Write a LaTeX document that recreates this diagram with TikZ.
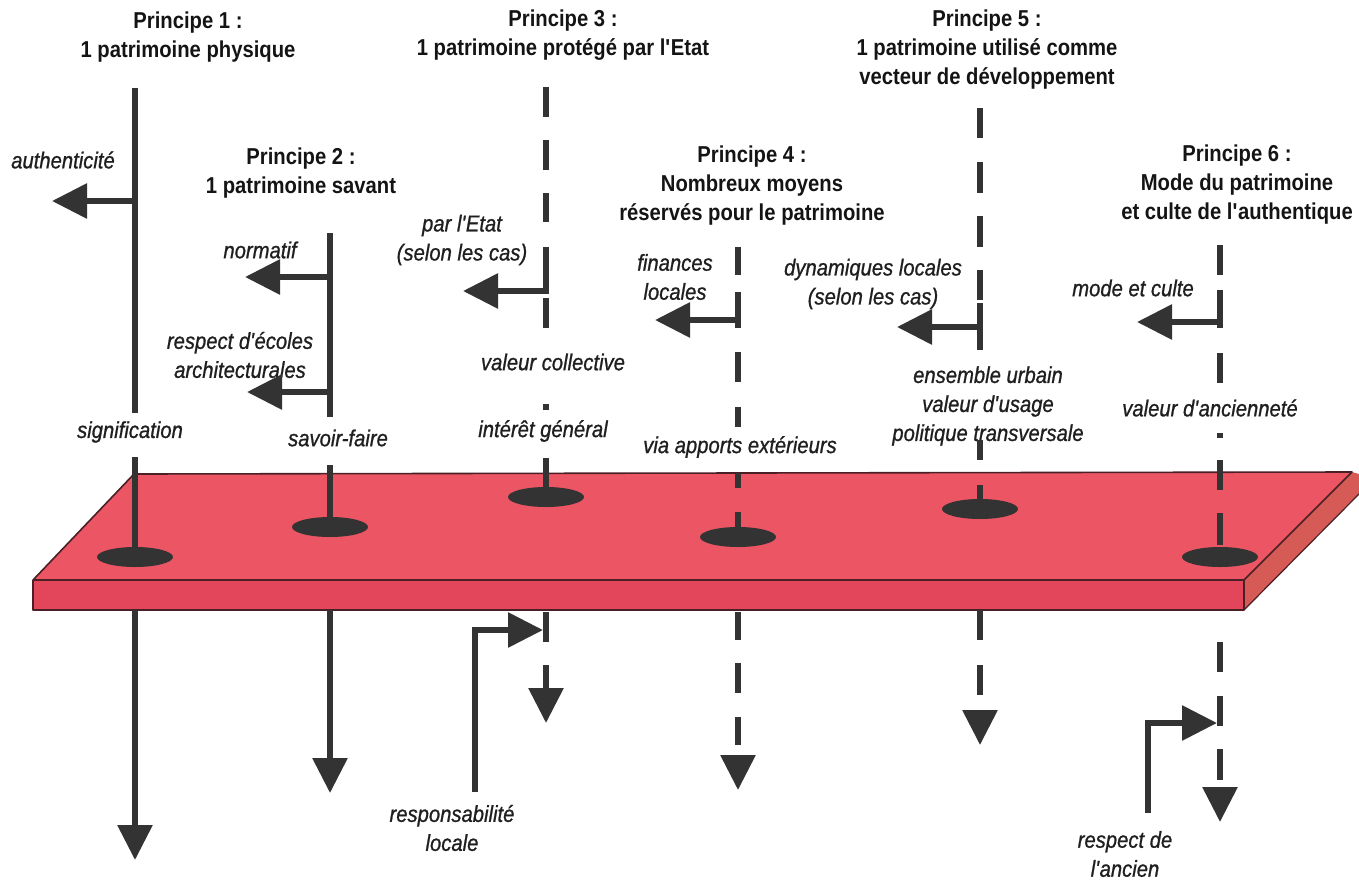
\documentclass[tikz,border=0pt]{standalone}
\usepackage{fontspec}
\setmainfont{Liberation Sans}[FakeStretch=0.88]
\newfontfamily\labfont{Liberation Sans Italic}[FakeStretch=0.88, FakeBold=0.9]
\usetikzlibrary{arrows.meta}
\definecolor{ink}{HTML}{333333}
\definecolor{slabtop}{HTML}{EC5563}
\definecolor{slabfront}{HTML}{E3465A}
\definecolor{slabside}{HTML}{D65A55}
\definecolor{slabedge}{HTML}{4A2026}
\newcommand{\ap}{\textquotesingle}
\begin{document}
\begin{tikzpicture}[x=1pt,y=-1pt,
 title/.style={font=\fontsize{23}{29}\selectfont\bfseries, align=center, text=black!92, inner sep=0pt},
 lab/.style={font=\fontsize{23}{29}\selectfont\labfont, align=center, text=black!88, inner sep=0pt},
 bar/.style={draw=ink, line width=6pt},
 arr/.style={bar, -{Triangle[length=35pt,width=34pt]}},
 disc/.style={fill=ink}]
\useasboundingbox (0,0) rectangle (1359,883);
% slab
\fill[slabtop] (134,474) -- (1352,472) -- (1244,580) -- (33,580) -- cycle;
\fill[slabfront] (33,580) rectangle (1244,610);
\fill[slabside] (1244,580) -- (1352,472) -- (1359,474) -- (1359,494) -- (1244,610) -- cycle;
\draw[slabedge, line width=1.6pt, line join=round] (33,580) -- (134,474) -- (1352,472) -- (1244,580) -- cycle;
\draw[slabedge, line width=1.6pt, line join=round] (33,580) -- (33,610) -- (1244,610) -- (1244,580);
\draw[slabedge, line width=1.2pt] (1244,610) -- (1359,494);
% titles
\node[title] (t1) at (188,37) {Principe 1 :\\1 patrimoine physique};
\node[title] (t2) at (301,173) {Principe 2 :\\1 patrimoine savant};
\node[title] (t3) at (563,35) {Principe 3 :\\1 patrimoine protégé par l\ap Etat};
\node[title] (t4) at (752,186) {Principe 4 :\\Nombreux moyens\\réservés pour le patrimoine};
\node[title] (t5) at (987,50) {Principe 5 :\\1 patrimoine utilisé comme\\vecteur de développement};
\node[title] (t6) at (1237,185) {Principe 6 :\\Mode du patrimoine\\et culte de l\ap authentique};
% labels
\node[lab] (l1a) at (63,160) {authenticité};
\node[lab] (l1b) at (130,432) {signification};
\node[lab] (l2a) at (260,250) {normatif};
\node[lab] (l2b) at (240,355) {respect d\ap écoles\\architecturales};
\node[lab] (l2c) at (338,438) {savoir-faire};
\node[lab] (l3a) at (462,240) {par l\ap Etat\\(selon les cas)};
\node[lab] (l3b) at (553,362) {valeur collective};
\node[lab] (l3c) at (543,431) {intérêt général};
\node[lab] (l3d) at (452,828) {responsabilité\\locale};
\node[lab] (l4a) at (675,277) {finances\\locales};
\node[lab] (l4b) at (740,447) {via apports extérieurs};
\node[lab] (l5a) at (873,284) {dynamiques locales\\(selon les cas)};
\node[lab] (l5b) at (988,406) {ensemble urbain\\valeur d\ap usage\\politique transversale};
\node[lab] (l6a) at (1133,288) {mode et culte};
\node[lab] (l6b) at (1210,408) {valeur d\ap ancienneté};
\node[lab] (l6c) at (1125,854) {respect de\\l\ap ancien};
% Principe 1
\draw[bar] (135,88) -- (135,413);
\draw[arr] (135,201) -- (52,201);
\draw[bar] (135,457) -- (135,557);
\fill[disc] (135,557) ellipse [x radius=38pt, y radius=10pt];
\draw[arr] (135,610) -- (135,860);
% Principe 2
\draw[bar] (330,233) -- (330,417);
\draw[arr] (330,277) -- (245,277);
\draw[arr] (330,392) -- (247,392);
\draw[bar] (330,465) -- (330,527);
\fill[disc] (330,527) ellipse [x radius=38pt, y radius=10pt];
\draw[arr] (330,610) -- (330,793);
% Principe 3
\foreach \a/\b in {87/117,140/170,193/222,247/293,298/328,404/410,458/497}
  \draw[bar] (546,\a) -- (546,\b);
\draw[arr] (549,291) -- (463,291);
\fill[disc] (546,497) ellipse [x radius=38pt, y radius=10pt];
\draw[bar] (546,612) -- (546,642);
\draw[arr] (546,665) -- (546,723);
\draw[bar] (475,792) -- (475,630) -- (520,630);
\draw[arr] (472,630) -- (543,630);
% Principe 4
\foreach \a/\b in {247/275,292/328,352/382,407/427,473/488,512/537,612/640,663/693,717/745}
  \draw[bar] (738,\a) -- (738,\b);
\draw[arr] (741,320) -- (655,320);
\fill[disc] (738,537) ellipse [x radius=38pt, y radius=10pt];
\draw[arr] (738,755) -- (738,790);
% Principe 5
\foreach \a/\b in {108/138,162/193,216/247,270/300,303/350,440/460,485/509,610/640,665/695}
  \draw[bar] (980,\a) -- (980,\b);
\draw[arr] (983,327) -- (897,327);
\fill[disc] (980,509) ellipse [x radius=38pt, y radius=10pt];
\draw[arr] (980,710) -- (980,745);
% Principe 6
\foreach \a/\b in {245/275,290/328,353/383,433/438,460/490,513/545,642/672,696/726,749/780}
  \draw[bar] (1220,\a) -- (1220,\b);
\draw[arr] (1223,322) -- (1137,322);
\fill[disc] (1220,557) ellipse [x radius=38pt, y radius=10pt];
\draw[arr] (1220,787) -- (1220,822);
\draw[bar] (1148,813) -- (1148,723) -- (1190,723);
\draw[arr] (1145,723) -- (1217,723);
\end{tikzpicture}
\end{document}
